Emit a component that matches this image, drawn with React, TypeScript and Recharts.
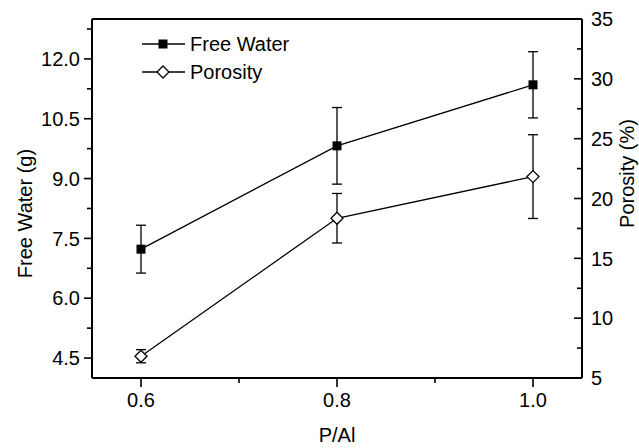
import React from "react";
import {
  ComposedChart,
  Line,
  XAxis,
  YAxis,
  ErrorBar,
  ReferenceLine,
  Legend,
} from "recharts";

// values
const pAl = [0.6, 0.8, 1.0];
const freeWater = [7.23, 9.82, 11.35];
const freeWaterErr = [0.6, 0.96, 0.83];
const porosity = [6.82, 18.35, 21.83];
const porosityErr = [0.55, 2.07, 3.5];

// tick labels (major) and minor tick positions
const xMajor = [0.6, 0.8, 1.0];
const xMinor = [0.7, 0.9];
const waterMajor = [4.5, 6.0, 7.5, 9.0, 10.5, 12.0];
const waterMinor = [5.25, 6.75, 8.25, 9.75, 11.25, 12.75];
const porMajor = [5, 10, 15, 20, 25, 30, 35];
const porMinor = [7.5, 12.5, 17.5, 22.5, 27.5, 32.5];

const FONT = '"Liberation Sans", Arial, sans-serif';

const data = pAl.map((p, i) => ({
  p,
  water: freeWater[i],
  waterErr: freeWaterErr[i],
  porosity: porosity[i],
  porErr: porosityErr[i],
}));

const BottomTick = (props: any) => {
  const { x, y, payload } = props;
  const major = xMajor.includes(payload.value);
  return (
    <g>
      <line x1={x} y1={y} x2={x} y2={y + (major ? 9 : 5)} stroke="#000" strokeWidth={1.6} />
      {major && (
        <text x={x} y={y + 29} textAnchor="middle" fontFamily={FONT} fontSize={20} fill="#000">
          {payload.value.toFixed(1)}
        </text>
      )}
    </g>
  );
};

const LeftTick = (props: any) => {
  const { x, y, payload } = props;
  const major = waterMajor.includes(payload.value);
  return (
    <g>
      <line x1={x - (major ? 8 : 5)} y1={y} x2={x} y2={y} stroke="#000" strokeWidth={1.6} />
      {major && (
        <text x={x - 12} y={y} dy="0.36em" textAnchor="end" fontFamily={FONT} fontSize={20} fill="#000">
          {payload.value.toFixed(1)}
        </text>
      )}
    </g>
  );
};

const RightTick = (props: any) => {
  const { x, y, payload } = props;
  const major = porMajor.includes(payload.value);
  return (
    <g>
      <line x1={x - (major ? 8 : 5)} y1={y} x2={x} y2={y} stroke="#000" strokeWidth={1.6} />
      {major && (
        <text x={x + 9} y={y} dy="0.36em" textAnchor="start" fontFamily={FONT} fontSize={20} fill="#000">
          {payload.value}
        </text>
      )}
    </g>
  );
};

const SquareDot = (props: any) => {
  const { cx, cy, index } = props;
  return <rect key={`sq-${index}`} x={cx - 4.5} y={cy - 4.5} width={9} height={9} fill="#000" />;
};

const DiamondDot = (props: any) => {
  const { cx, cy, index } = props;
  const r = 6;
  return (
    <path
      key={`dm-${index}`}
      d={`M${cx},${cy - r}L${cx + r},${cy}L${cx},${cy + r}L${cx - r},${cy}Z`}
      fill="#fff"
      stroke="#000"
      strokeWidth={1.3}
    />
  );
};

const LegendContent = () => (
  <div style={{ fontFamily: FONT, fontSize: 20, color: "#000", lineHeight: "28px" }}>
    <div style={{ display: "flex", alignItems: "center" }}>
      <svg width={48} height={28}>
        <line x1={0} y1={14} x2={43} y2={14} stroke="#000" strokeWidth={1.3} />
        <rect x={16.5} y={9.5} width={9} height={9} fill="#000" />
      </svg>
      <span>Free Water</span>
    </div>
    <div style={{ display: "flex", alignItems: "center" }}>
      <svg width={48} height={28}>
        <line x1={0} y1={14} x2={43} y2={14} stroke="#000" strokeWidth={1.3} />
        <path d="M21,8L27,14L21,20L15,14Z" fill="#fff" stroke="#000" strokeWidth={1.3} />
      </svg>
      <span>Porosity</span>
    </div>
  </div>
);

export default function App() {
  return (
    <div style={{ position: "absolute", left: 0, top: 0, width: 639, height: 448, background: "#fff" }}>
      <ComposedChart
        width={639}
        height={448}
        data={data}
        margin={{ top: 19, right: 0, bottom: 0, left: 0 }}
      >
        <XAxis
          dataKey="p"
          type="number"
          domain={[0.55, 1.05]}
          ticks={[...xMajor, ...xMinor]}
          interval={0}
          height={70}
          axisLine={{ stroke: "#000", strokeWidth: 2 }}
          tickLine={false}
          tickSize={0}
          tickMargin={0}
          tick={<BottomTick />}
          label={{
            content: (lp: any) => {
              const vb = lp.viewBox;
              return (
                <text
                  x={vb.x + vb.width / 2}
                  y={vb.y + 64}
                  textAnchor="middle"
                  fontFamily={FONT}
                  fontSize={20}
                  fill="#000"
                >
                  P/Al
                </text>
              );
            },
          }}
        />
        <YAxis
          yAxisId="left"
          type="number"
          domain={[4, 13]}
          ticks={[...waterMajor, ...waterMinor]}
          interval={0}
          width={92}
          allowDataOverflow
          axisLine={{ stroke: "#000", strokeWidth: 2 }}
          tickLine={false}
          tickSize={0}
          tickMargin={0}
          tick={<LeftTick />}
          label={{
            content: (lp: any) => {
              const vb = lp.viewBox;
              const cx = vb.x + 32;
              const cy = vb.y + vb.height / 2 + 15;
              return (
                <text
                  x={cx}
                  y={cy}
                  transform={`rotate(-90, ${cx}, ${cy})`}
                  textAnchor="middle"
                  fontFamily={FONT}
                  fontSize={20}
                  fill="#000"
                >
                  Free Water (g)
                </text>
              );
            },
          }}
        />
        <YAxis
          yAxisId="right"
          orientation="right"
          type="number"
          domain={[5, 35]}
          ticks={[...porMajor, ...porMinor]}
          interval={0}
          width={57}
          allowDataOverflow
          axisLine={{ stroke: "#000", strokeWidth: 2 }}
          tickLine={false}
          tickSize={0}
          tickMargin={0}
          tick={<RightTick />}
          label={{
            content: (lp: any) => {
              const vb = lp.viewBox;
              const cx = vb.x + 52;
              const cy = vb.y + vb.height / 2 - 25;
              return (
                <text
                  x={cx}
                  y={cy}
                  transform={`rotate(-90, ${cx}, ${cy})`}
                  textAnchor="middle"
                  fontFamily={FONT}
                  fontSize={20}
                  fill="#000"
                >
                  Porosity (%)
                </text>
              );
            },
          }}
        />
        <ReferenceLine yAxisId="left" y={13} stroke="#000" strokeWidth={2} />
        <Legend
          layout="horizontal"
          verticalAlign="middle"
          align="center"
          content={<LegendContent />}
          wrapperStyle={{ left: 142, top: 30, width: "auto" }}
        />
        <Line
          yAxisId="left"
          dataKey="water"
          stroke="#000"
          strokeWidth={1.3}
          dot={SquareDot}
          activeDot={false}
          isAnimationActive={false}
        >
          <ErrorBar dataKey="waterErr" direction="y" width={5} stroke="#000" strokeWidth={1.3} />
        </Line>
        <Line
          yAxisId="right"
          dataKey="porosity"
          stroke="#000"
          strokeWidth={1.3}
          dot={DiamondDot}
          activeDot={false}
          isAnimationActive={false}
        >
          <ErrorBar dataKey="porErr" direction="y" width={5} stroke="#000" strokeWidth={1.3} />
        </Line>
      </ComposedChart>
    </div>
  );
}
